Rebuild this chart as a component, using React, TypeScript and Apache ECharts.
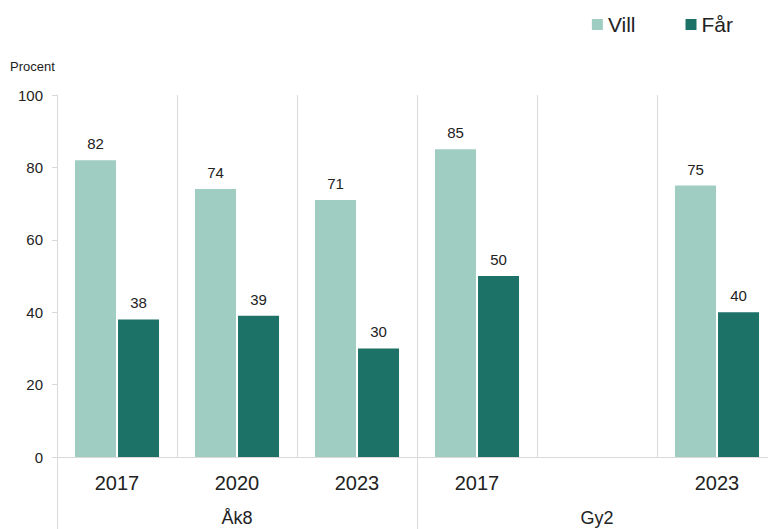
import React, { useEffect, useRef } from "react";
import * as echarts from "echarts";

const years = ["2017", "2020", "2023", "2017", "", "2023"];
const groups = ["Åk8", "Gy2"];
const vill = [82, 74, 71, 85, null, 75];
const far = [38, 39, 30, 50, null, 40];
const yTicks = { min: 0, max: 100, interval: 20 };

const FONT = "Liberation Sans";
const GRID = "#d9d9d9";

export default function App() {
  const ref = useRef<HTMLDivElement>(null);
  useEffect(() => {
    const chart = echarts.init(ref.current!, undefined, { renderer: "svg" });
    chart.setOption({
      animation: false,
      textStyle: { fontFamily: FONT },
      legend: {
        right: 30,
        top: 9,
        itemWidth: 11,
        itemHeight: 11,
        itemGap: 50,
        icon: "rect",
        textStyle: { fontSize: 21, color: "#222", fontFamily: FONT },
        data: ["Vill", "Får"],
      },
      graphic: [
        {
          type: "text",
          left: 10,
          top: 60,
          style: { text: "Procent", fontSize: 13, fill: "#222", fontFamily: FONT },
        },
      ],
      grid: {
        left: 57,
        top: 95,
        width: 720,
        bottom: 72,
        containLabel: false,
        outerBoundsMode: "none",
      },
      xAxis: [
        {
          type: "category",
          data: years,
          position: "bottom",
          axisLine: { show: true, lineStyle: { color: GRID, width: 1 } },
          axisTick: { show: false },
          splitLine: { show: true, interval: 0, lineStyle: { color: GRID, width: 1 } },
          axisLabel: { interval: 0, fontSize: 20, color: "#222", margin: 16, fontFamily: FONT },
        },
        {
          type: "category",
          data: groups,
          position: "bottom",
          axisLine: { show: false },
          axisTick: { show: true, interval: 0, length: 80, lineStyle: { color: GRID, width: 1 } },
          splitLine: { show: false },
          axisLabel: { interval: 0, fontSize: 18, color: "#222", margin: 52, fontFamily: FONT },
        },
      ],
      yAxis: {
        type: "value",
        min: yTicks.min,
        max: yTicks.max,
        interval: yTicks.interval,
        axisLine: { show: true, lineStyle: { color: GRID, width: 1 } },
        axisTick: { show: true, length: 5, lineStyle: { color: GRID, width: 1 } },
        splitLine: { show: false },
        axisLabel: { fontSize: 15, color: "#222", margin: 14, fontFamily: FONT },
      },
      series: [
        {
          name: "Vill",
          type: "bar",
          xAxisIndex: 0,
          data: vill,
          barWidth: 41,
          barGap: "5%",
          itemStyle: { color: "#9fcdc2" },
          label: { show: true, position: "top", distance: 9, fontSize: 15, color: "#222", fontFamily: FONT },
        },
        {
          name: "Får",
          type: "bar",
          xAxisIndex: 0,
          data: far,
          barWidth: 41,
          barGap: "5%",
          itemStyle: { color: "#1c7267" },
          label: { show: true, position: "top", distance: 9, fontSize: 15, color: "#222", fontFamily: FONT },
        },
      ],
    });
    return () => chart.dispose();
  }, []);
  return (
    <div
      ref={ref}
      style={{ position: "fixed", left: 0, top: 0, width: 768, height: 529, background: "#fff" }}
    />
  );
}
